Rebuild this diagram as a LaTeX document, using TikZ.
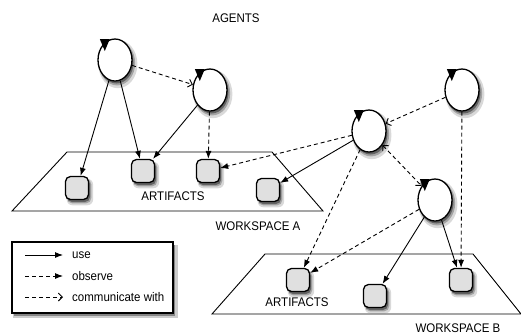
\documentclass[tikz,border=0pt]{standalone}
\usepackage{fontspec}
\newfontfamily\diagfont[FakeStretch=0.92]{Liberation Sans}
\usetikzlibrary{arrows.meta, positioning, shapes.geometric, shadows}

\begin{document}
\begin{tikzpicture}[
    x=1pt, y=-1pt,
    font=\diagfont\fontsize{12.5}{14}\selectfont,
    soft shadow/.style={general shadow={shadow xshift=2.5pt, shadow yshift=-3.5pt, shadow scale=1.15, fill=black, opacity=0.15},
                        general shadow={shadow xshift=2pt, shadow yshift=-3pt, shadow scale=1.06, fill=black, opacity=0.25},
                        general shadow={shadow xshift=1.5pt, shadow yshift=-2.5pt, fill=black, opacity=0.4}},
    agent/.style={draw, ellipse, line width=1.3pt, fill=white, minimum width=34pt, minimum height=42pt, inner sep=0pt, soft shadow},
    selftip/.style={isosceles triangle, isosceles triangle stretches, fill=black, minimum height=12pt, minimum width=10pt,
                    inner sep=0pt, shape border rotate=225},
    artifact/.style={draw, rectangle, rounded corners=5pt, line width=1.3pt, fill=black!12, minimum size=23pt, inner sep=0pt, soft shadow},
    workspace/.style={draw, line width=0.9pt},
    wslabel/.style={inner sep=0pt},
    usearrow/.style={-{Latex[length=8pt, width=6pt]}, line width=0.9pt},
    obsarrow/.style={usearrow, dash pattern=on 4pt off 3pt},
    comarrow/.style={-{Straight Barb[length=4pt, width=8pt]}, dash pattern=on 4pt off 3pt, line width=0.9pt},
    legendbox/.style={draw, line width=1.3pt, fill=white, minimum width=161pt, minimum height=71pt, inner sep=0pt,
                      general shadow={shadow xshift=3pt, shadow yshift=-4pt, shadow scale=1.02, fill=black, opacity=0.2},
                      general shadow={shadow xshift=2pt, shadow yshift=-3pt, fill=black, opacity=0.35}}
]
\useasboundingbox (0,0) rectangle (521,335);

% workspaces
\draw[workspace] (67,152) -- (272,152) -- (323,211) -- (12,211) -- cycle;
\draw[workspace] (265,254) -- (473,254) -- (521,314) -- (212,314) -- cycle;

\node[wslabel] (agentslbl) at (236,18) {AGENTS};
\node[wslabel] (artlblA) at (173,196) {ARTIFACTS};
\node[wslabel] (wslblA) at (258,226) {WORKSPACE A};
\node[wslabel] (artlblB) at (297,302) {ARTIFACTS};
\node[wslabel] (wslblB) at (458,328) {WORKSPACE B};

% artifacts
\node[artifact] (arA1) at (77,188) {};
\node[artifact] (arA2) at (143,171) {};
\node[artifact] (arA3) at (208,171) {};
\node[artifact] (arA4) at (268,190) {};
\node[artifact] (arB1) at (298,280) {};
\node[artifact] (arB2) at (375,296) {};
\node[artifact] (arB3) at (461,280) {};

% agents
\node[agent] (ag1) at (115,60) {};
\node[agent] (ag2) at (210,90) {};
\node[agent] (ag3) at (369,131) {};
\node[agent] (ag4) at (462,90) {};
\node[agent] (ag5) at (435,200) {};
\foreach \n in {ag1,ag2,ag3,ag4,ag5}
    \node[selftip] (\n-tip) at (\n.120) {};

% use
\draw[usearrow] (ag1) -- (arA1);
\draw[usearrow] (ag1) -- (arA2);
\draw[usearrow] (ag2) -- (arA2);
\draw[usearrow] (ag3) -- (arA4);
\draw[usearrow] (ag5) -- (arB2);
\draw[usearrow] (ag5) -- (arB3);

% observe
\draw[obsarrow] (ag2) -- (arA3);
\draw[obsarrow] (ag3) -- (arA3);
\draw[obsarrow] (ag3) -- (arB1);
\draw[obsarrow] (ag5) -- (arB1);
\draw[obsarrow] (ag4) -- (arB3);

% communicate
\draw[comarrow] (ag1) -- (ag2);
\draw[comarrow] (ag4) -- (ag3);
\draw[comarrow, {Straight Barb[length=4pt, width=8pt]}-{Straight Barb[length=4pt, width=8pt]}] (ag3) -- (ag5);

% legend
\node[legendbox] (legend) at (92.5,277.5) {};
\coordinate (useS) at (25,255);
\coordinate (useE) at (63,255);
\coordinate (obsS) at (25,276);
\coordinate (obsE) at (63,276);
\coordinate (comS) at (25,297);
\coordinate (comE) at (63,297);
\draw[usearrow] (useS) -- (useE);
\draw[obsarrow] (obsS) -- (obsE);
\draw[comarrow] (comS) -- (comE);
\node[wslabel, right=9pt of useE] (uselbl) {use};
\node[wslabel, right=9pt of obsE] (obslbl) {observe};
\node[wslabel, right=9pt of comE] (comlbl) {communicate with};

\end{tikzpicture}
\end{document}
